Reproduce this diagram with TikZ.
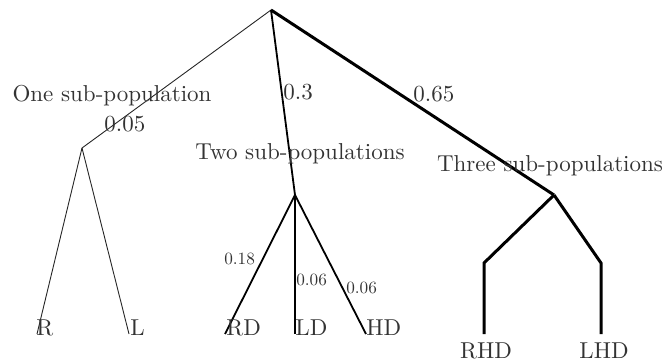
\documentclass[tikz,border=0pt]{standalone}
\begin{document}
\begin{tikzpicture}[x=1pt,y=-1pt,
  big/.style={font=\fontsize{10}{12}\selectfont, scale=2.3, text=black!80, inner sep=0pt},
  small/.style={font=\fontsize{10}{12}\selectfont, scale=1.72, text=black!80, inner sep=0pt},
  brone/.style={draw=black!85, line width=0.9pt},
  brtwo/.style={draw=black, line width=1.8pt},
  brthree/.style={draw=black, line width=3pt, line join=miter}]
\useasboundingbox (0,0) rectangle (666,363);
\coordinate (root) at (271,10);
\coordinate (one) at (82,148);
\coordinate (two) at (295,195);
\coordinate (three) at (554,195);
\coordinate (r) at (37,334);
\coordinate (l) at (129,334);
\coordinate (rd) at (225,334);
\coordinate (ld) at (295,334);
\coordinate (hd) at (366,334);
\coordinate (rhdk) at (484,263);
\coordinate (rhd) at (484,334);
\coordinate (lhdk) at (601,263);
\coordinate (lhd) at (601,334);
% branches
\draw[brone] (root) -- (one);
\draw[brone] (one) -- (r);
\draw[brone] (one) -- (l);
\draw[brtwo] (root) -- (two);
\draw[brtwo] (two) -- (rd);
\draw[brtwo] (two) -- (ld);
\draw[brtwo] (two) -- (hd);
\draw[brthree] (root) -- (three);
\draw[brthree] (three) -- (rhdk) -- (rhd);
\draw[brthree] (three) -- (lhdk) -- (lhd);
% labels
\node[big, anchor=base] (tone) at (112,102) {One sub-population};
\node[big, anchor=base west] (p05) at (104,132) {0.05};
\node[big, anchor=base west] (p3) at (283,100) {0.3};
\node[big, anchor=base] (ttwo) at (300,160) {Two sub-populations};
\node[big, anchor=base west] (p65) at (413,102) {0.65};
\node[big, anchor=base] (tthree) at (550,172) {Three sub-populations};
\node[small, anchor=west] (p18) at (224,259) {0.18};
\node[small, anchor=west] (p06a) at (296,280) {0.06};
\node[small, anchor=west] (p06b) at (346,288) {0.06};
\node[big, anchor=base west] (tr) at (36,335) {R};
\node[big, anchor=base west] (tl) at (130,335) {L};
\node[big, anchor=base west] (trd) at (226,335) {RD};
\node[big, anchor=base west] (tld) at (295,335) {LD};
\node[big, anchor=base west] (thd) at (366,335) {HD};
\node[big, anchor=base] (trhd) at (486,358) {RHD};
\node[big, anchor=base] (tlhd) at (604,358) {LHD};
\end{tikzpicture}
\end{document}
